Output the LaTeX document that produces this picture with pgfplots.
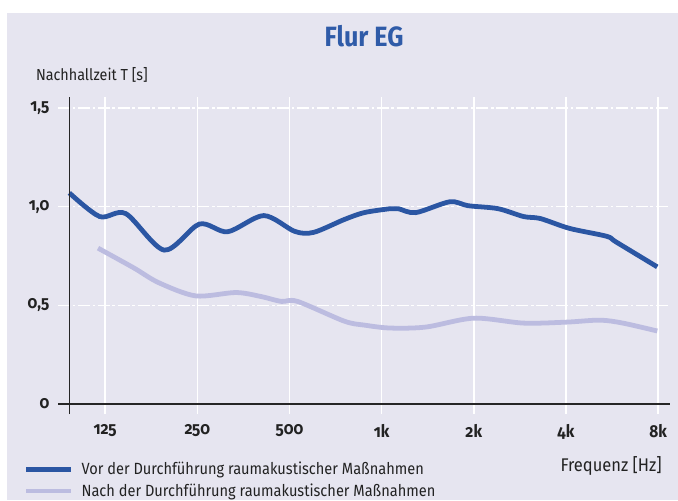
\documentclass[border=0pt]{standalone}
\usepackage{fontspec}
\setmainfont[FakeStretch=0.9]{Fira Sans}
\usepackage{pgfplots}
\pgfplotsset{compat=1.18}
\definecolor{panel}{HTML}{E6E5F0}
\definecolor{vorblue}{HTML}{2B56A3}
\definecolor{nachblue}{HTML}{BCBCE0}
\definecolor{titleblue}{HTML}{2F5BA8}
\definecolor{txt}{HTML}{222222}

\begin{document}
\begin{tikzpicture}[x=1bp,y=1bp]
  \useasboundingbox (-43.5,-64.5) rectangle (465,310.5);
  \fill[white] (-43.5,-64.5) rectangle (465,310.5);
  \fill[panel] (-38.25,-64.5) rectangle (465,300.75);
  \begin{axis}[
    scale only axis,
    width=459bp, height=237.75bp,
    xmode=log, log basis x=2,
    xmin=87.7, xmax=8750,
    ymin=-0.0507, ymax=1.556,
    axis line style={draw=none},
    major tick length=0pt,
    xtick={125,250,500,1000,2000,4000,8000},
    xticklabels={125,250,500,1k,2k,4k,8k},
    ytick={0,0.5,1,1.5},
    yticklabels={0,{0,5},{1,0},{1,5}},
    xmajorgrids, ymajorgrids,
    x grid style={white, line width=1.2pt},
    y grid style={white, line width=1pt, dash pattern=on 9pt off 2pt on 2pt off 2pt},
    tick label style={font=\bfseries\fontsize{13}{15}\selectfont\addfontfeatures{Numbers=OldStyle}, text=txt},
    xticklabel style={yshift=-4bp},
    yticklabel style={xshift=-3bp},
    title={Flur EG},
    title style={at={(rel axis cs:0.5,1)}, anchor=center, yshift=40bp,
      font=\bfseries\fontsize{21}{24}\selectfont, text=titleblue},
    xlabel={Frequenz [Hz]},
    xlabel style={at={(rel axis cs:0.994,-0.164)}, anchor=east,
      font=\fontsize{13.8}{15}\selectfont, text=txt},
    ylabel={Nachhallzeit T [s]},
    ylabel style={at={(rel axis cs:0,1)}, rotate=-90, anchor=west,
      xshift=-20bp, yshift=16.5bp, font=\fontsize{12}{14}\selectfont, text=txt},
    legend style={at={(rel axis cs:-0.056,-0.143)}, anchor=north west,
      draw=none, fill=none, font=\fontsize{12.2}{14}\selectfont, text=txt,
      row sep=1bp, inner sep=0pt},
    legend cell align=left,
    legend image code/.code={\draw[#1, line width=3.2pt] (0bp,0bp) -- (34bp,0bp);},
    clip=false,
  ]

  % vor der Durchfuehrung
  \addplot[vorblue, line width=3.6pt, smooth] coordinates {
    (95.5,1.07) (120,0.95) (146,0.965) (195,0.78) (254,0.912) (314,0.873)
    (412,0.955) (520,0.875) (600,0.87) (755,0.935) (877,0.97) (1067,0.99)
    (1133,0.99) (1293,0.97) (1670,1.025) (1918,1.005) (2400,0.99) (2910,0.95)
    (3300,0.94) (4110,0.89) (5430,0.85) (5850,0.82) (7950,0.695)
  };
  \addlegendentry{\hspace{4bp}Vor der Durchführung raumakustischer Maßnahmen}

  % nach der Durchfuehrung
  \addplot[nachblue, line width=3.6pt, smooth] coordinates {
    (118.5,0.79) (155,0.69) (187,0.615) (247,0.548) (334,0.565) (403,0.545)
    (470,0.52) (531,0.52) (755,0.42) (877,0.40) (1067,0.385) (1395,0.39)
    (2000,0.435) (2910,0.41) (4020,0.415) (5160,0.425) (6140,0.41) (7950,0.37)
  };
  \addlegendentry{\hspace{4bp}Nach der Durchführung raumakustischer Maßnahmen}

  % axis lines
  \draw[black!85, line width=1pt] (axis cs:95.5,-0.0507) -- (axis cs:95.5,1.556);
  \draw[black!85, line width=1pt] (axis cs:87.7,0) -- (axis cs:8750,0);
  \end{axis}
\end{tikzpicture}
\end{document}
